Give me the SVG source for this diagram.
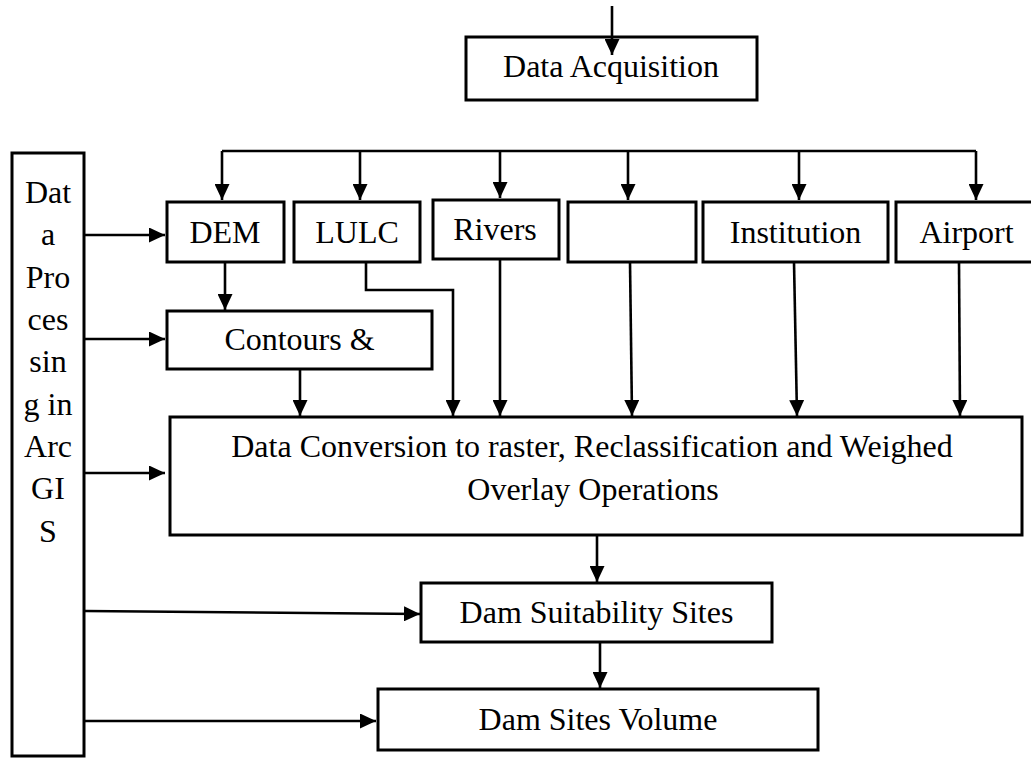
<svg xmlns="http://www.w3.org/2000/svg" width="1031" height="758" viewBox="0 0 1031 758">
<style>
.box{fill:#fff;stroke:#000;stroke-width:3}
.t{font-family:"Liberation Serif","Times New Roman",serif;font-size:32px;fill:#000;text-anchor:middle}
.c{fill:none;stroke:#000;stroke-width:2.6}
.a{marker-end:url(#ah)}
</style>
<defs>
<marker id="ah" markerUnits="userSpaceOnUse" viewBox="0 0 16 15" markerWidth="16" markerHeight="15" refX="16" refY="7.5" orient="auto">
<path d="M0,0 L16,7.5 L0,15 z" fill="#000"/>
</marker>
</defs>
<rect width="1031" height="758" fill="#fff"/>
<g id="n-acq"><rect class="box" x="466" y="37" width="291" height="63"/><text class="t" x="611" y="77">Data Acquisition</text></g>
<g id="n-proc"><rect class="box" x="12" y="153" width="72" height="603"/>
<text class="t" x="48" y="203">Dat</text><text class="t" x="48" y="245">a</text><text class="t" x="48" y="288">Pro</text><text class="t" x="48" y="330">ces</text><text class="t" x="48" y="372">sin</text><text class="t" x="48" y="415">g in</text><text class="t" x="48" y="457">Arc</text><text class="t" x="48" y="499">GI</text><text class="t" x="48" y="542">S</text></g>
<g id="n-dem"><rect class="box" x="167" y="202" width="117" height="60"/><text class="t" x="225" y="243">DEM</text></g>
<g id="n-lulc"><rect class="box" x="294" y="202" width="126" height="60"/><text class="t" x="357" y="243">LULC</text></g>
<g id="n-rivers"><rect class="box" x="433" y="200" width="126" height="59"/><text class="t" x="495" y="240">Rivers</text></g>
<g id="n-empty"><rect class="box" x="568" y="202" width="128" height="60"/></g>
<g id="n-inst"><rect class="box" x="703" y="202" width="185" height="60"/><text class="t" x="795.5" y="243">Institution</text></g>
<g id="n-air"><rect class="box" x="896" y="202" width="142" height="60"/><text class="t" x="966.5" y="243">Airport</text></g>
<g id="n-cont"><rect class="box" x="167" y="311" width="265" height="58"/><text class="t" x="299.5" y="350">Contours &amp;</text></g>
<g id="n-conv"><rect class="box" x="170" y="417" width="852" height="118"/><text class="t" x="592" y="457">Data Conversion to raster, Reclassification and Weighed</text><text class="t" x="593" y="500">Overlay Operations</text></g>
<g id="n-suit"><rect class="box" x="421" y="583" width="351" height="59"/><text class="t" x="596.5" y="623">Dam Suitability Sites</text></g>
<g id="n-vol"><rect class="box" x="378" y="689" width="440" height="61"/><text class="t" x="598" y="730">Dam Sites Volume</text></g>
<g id="connectors">
<path class="c a" d="M612,6 V55"/>
<path class="c" d="M222,151 H976" stroke-width="3"/>
<path class="c a" d="M222,151 V200"/>
<path class="c a" d="M360,151 V200"/>
<path class="c a" d="M500,151 V198"/>
<path class="c a" d="M628,151 V200"/>
<path class="c a" d="M799,151 V200"/>
<path class="c a" d="M976,151 V200"/>
<path class="c a" d="M85,235 H165"/>
<path class="c a" d="M84,339 H165"/>
<path class="c a" d="M85,473 H165"/>
<path class="c a" d="M85,611 L420,614"/>
<path class="c a" d="M85,721 H376"/>
<path class="c a" d="M225,262 V310"/>
<path class="c a" d="M300,369 V416"/>
<path class="c a" d="M366,262 V290 H453 V416"/>
<path class="c a" d="M500,259 V416"/>
<path class="c a" d="M630,262 L632,416"/>
<path class="c a" d="M794,262 L797,416"/>
<path class="c a" d="M959,262 L960,416"/>
<path class="c a" d="M597,535 V582"/>
<path class="c a" d="M600,642 V688"/>
</g>
</svg>
